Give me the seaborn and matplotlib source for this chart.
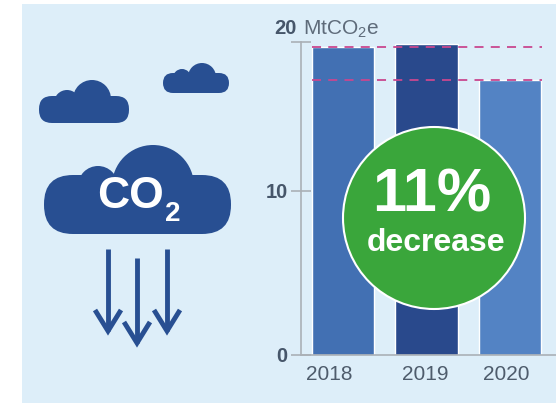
import matplotlib
matplotlib.use('Agg')
import matplotlib.pyplot as plt
import numpy as np
import pandas as pd
import seaborn as sns
from matplotlib.patches import Circle, FancyBboxPatch, Rectangle

# Data
years = ['2018', '2019', '2020']
emissions = [19.6, 19.8, 17.4]
bar_colors = ['#4270b3', '#29498c', '#5383c4']
y_ticks = [0, 10, 20]
y_tick_labels = ['0', '10', '']
ref_lines = [19.6, 17.4]

W, H = 556, 404

sns.set_theme(style='white')
plt.rcParams['font.family'] = ['Liberation Sans', 'DejaVu Sans']
plt.rcParams['mathtext.default'] = 'regular'

fig = plt.figure(figsize=(W / 100, H / 100), dpi=100, facecolor='white')

# Full figure overlay in pixel coordinates for the panel, icons and badge
bg = fig.add_axes([0, 0, 1, 1], zorder=0)
bg.set_xlim(0, W)
bg.set_ylim(H, 0)
bg.axis('off')
bg.add_patch(Rectangle((22, 4), W - 22, 399, fc='#ddeef9', ec='none'))

navy = '#284f92'


def cloud(ax, bumps, base):
    # bumps are (x, y, r) circles, base is a rounded bar under them
    for x, y, r in bumps:
        ax.add_patch(Circle((x, y), r, fc=navy, ec='none'))
    x0, x1, y0, y1, r = base
    ax.add_patch(FancyBboxPatch((x0 + r, y0 + r), x1 - x0 - 2 * r, y1 - y0 - 2 * r,
                                boxstyle=f'round,pad={r},rounding_size={r}',
                                fc=navy, ec='none'))


cloud(bg, [(67, 103, 13), (92, 99, 19)], (39, 129, 96, 123, 13))
cloud(bg, [(182, 78, 9), (202, 77, 14)], (163, 229, 73, 93, 10))
cloud(bg, [(98, 186, 20), (153, 186, 41)], (44, 231, 175, 234, 29))

bg.text(97, 197, 'CO', color='white', fontsize=32, fontweight='bold', va='center', ha='left')
bg.text(173, 214, '2', color='white', fontsize=20, fontweight='bold', va='center', ha='center')

for x, y0, y1 in [(108, 249, 331), (137, 258, 343), (167, 249, 331)]:
    bg.plot([x, x], [y0, y1], color=navy, lw=3.5, solid_capstyle='butt')
    bg.plot([x - 13, x, x + 13], [y1 - 21, y1, y1 - 21], color=navy, lw=3.5,
            solid_joinstyle='miter', solid_capstyle='butt')

# Bar chart
ax = fig.add_axes([301 / W, 1 - 355 / H, (W - 301) / W, (355 - 41.5) / H], zorder=1)
ax.patch.set_alpha(0)
df = pd.DataFrame({'year': years, 'emissions': emissions})
sns.barplot(data=df, x='year', y='emissions', hue='year', palette=bar_colors,
            width=0.75, legend=False, saturation=1, ax=ax)
ax.set_xlim(-0.503, 2.55)
# the source axis is not quite linear, 10 sits above the midpoint
ax.set_yscale('function', functions=(lambda v: np.interp(v, [0, 10, 20], [0, 164, 313.5]),
                                     lambda v: np.interp(v, [0, 164, 313.5], [0, 10, 20])))
ax.set_ylim(0, 20)
ax.set_xlabel('')
ax.set_ylabel('')
sns.despine(ax=ax, top=True, right=True)
for side in ['left', 'bottom']:
    ax.spines[side].set_color('#aab0b6')
    ax.spines[side].set_linewidth(1.2)
ax.set_yticks(y_ticks)
ax.set_yticklabels(y_tick_labels, fontsize=14.5, fontweight='bold', color='#46566a')
ax.minorticks_off()
ax.tick_params(axis='y', left=True, direction='inout', length=15, width=1.2, color='#aab0b6', pad=2)
ax.set_xticks([-0.17, 0.99, 1.95])
ax.set_xticklabels(years, fontsize=15, color='#4e5c6c')
ax.tick_params(axis='x', bottom=False, pad=1)
for val in ref_lines:
    ax.axhline(val, xmin=0.043, xmax=0.945, color='#c9478f', lw=1.3, ls=(0, (5, 4)), zorder=5)

bg.text(274, 28, '20', fontsize=14.5, fontweight='bold', color='#46566a', ha='left', va='center')
bg.text(303, 34.5, 'MtCO$_{2}$e', fontsize=15, color='#5e6b7a', ha='left', va='baseline')

# Badge on top of the bars
top = fig.add_axes([0, 0, 1, 1], zorder=2)
top.set_xlim(0, W)
top.set_ylim(H, 0)
top.axis('off')
top.add_patch(Circle((434, 218), 91, fc='#3aa63b', ec='white', lw=1.5))
top.text(432, 196, '11%', color='white', fontsize=44, fontweight='bold', ha='center', va='center')
top.text(436, 243, 'decrease', color='white', fontsize=23, fontweight='bold', ha='center', va='center')

fig.savefig('out.png', dpi=100)
